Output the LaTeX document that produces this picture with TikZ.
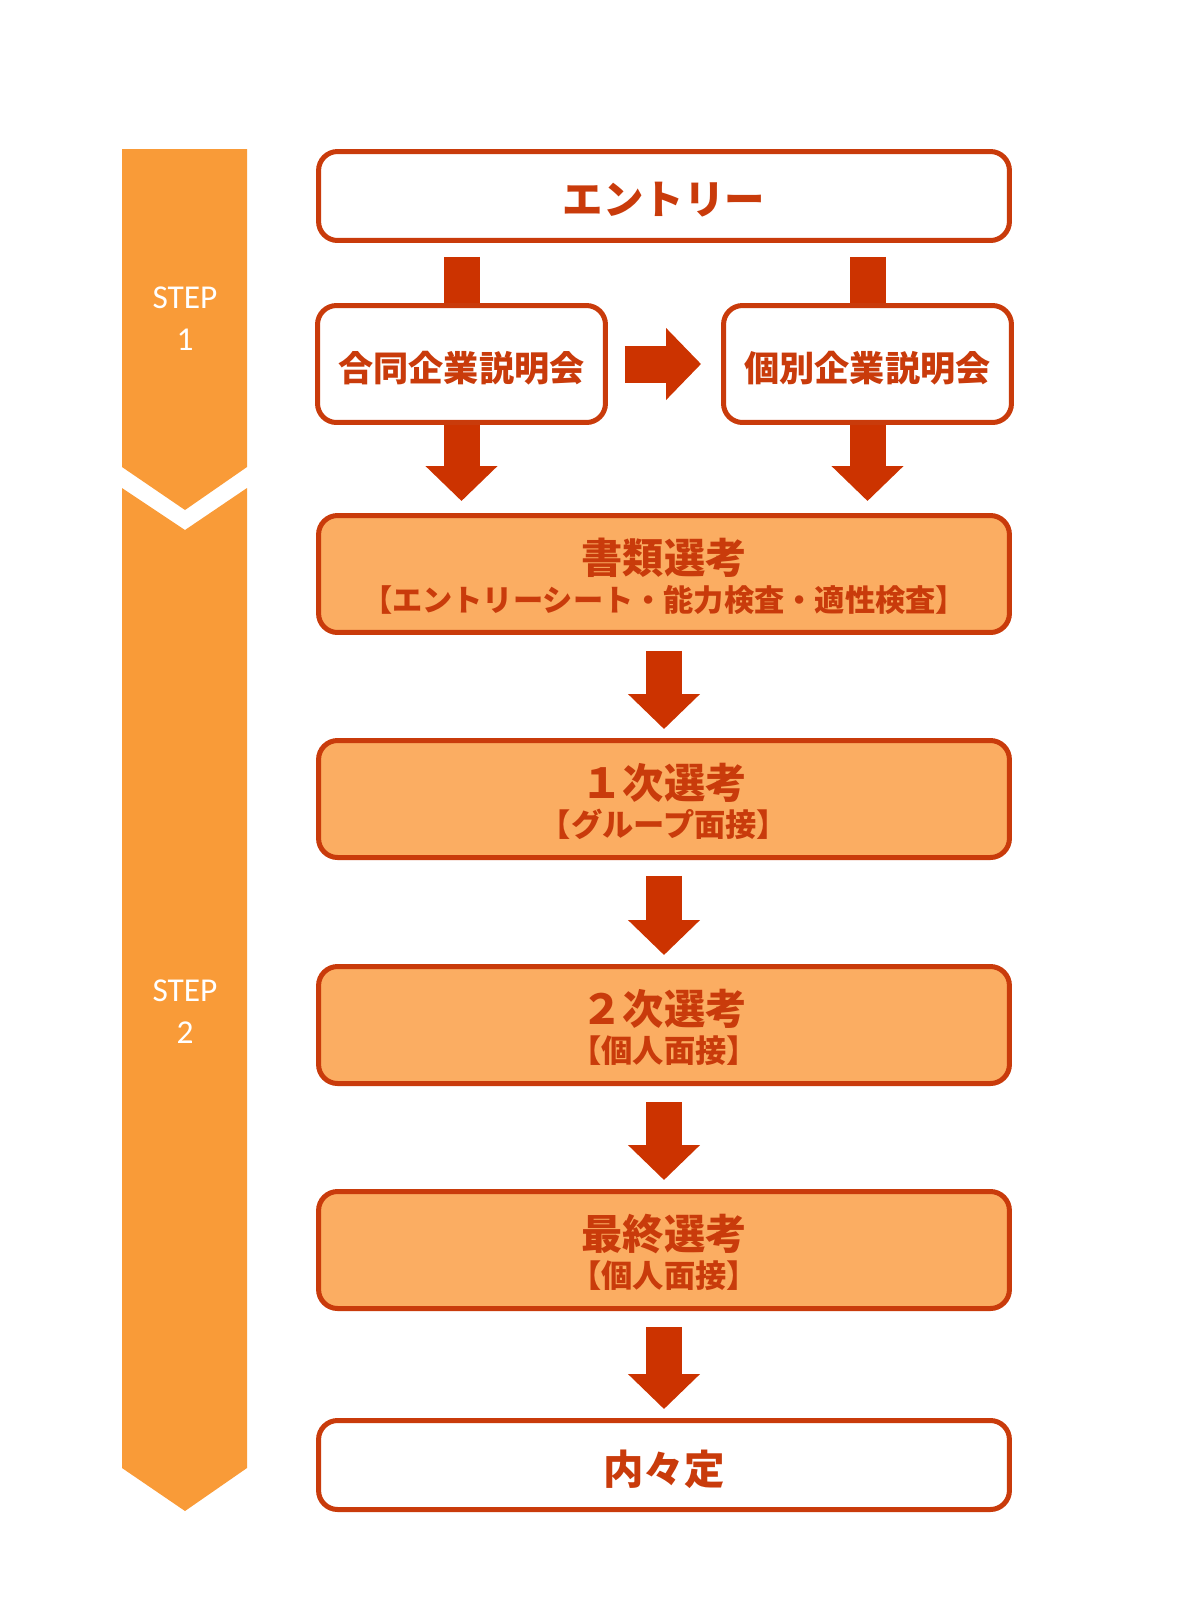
\documentclass[tikz,border=0pt]{standalone}
\usepackage{fontspec}
\usepackage{tikz}
\usetikzlibrary{arrows.meta}
\newfontfamily\jpfont{Noto Sans CJK JP}[BoldFont={Noto Sans CJK JP Black}]
\newfontfamily\stepfont{Carlito}
\definecolor{barorange}{HTML}{F99B38}
\definecolor{boxfill}{HTML}{FBAD62}
\definecolor{edgered}{HTML}{C93B0B}
\definecolor{arrowred}{HTML}{CC3300}
\newcommand{\bigjp}[1]{{\fontsize{23.5}{21.5}\selectfont #1}}
\newcommand{\subjp}[1]{{\fontsize{17.8}{21.5}\selectfont #1}}

\begin{document}
\begin{tikzpicture}[x=0.02cm, y=-0.02cm,
	flowbox/.style={draw=edgered, line width=0.1cm, rounded corners=0.38cm, fill=white, inner sep=0pt, minimum width=13.82cm, minimum height=1.78cm},
	selbox/.style={flowbox, fill=boxfill, minimum height=2.34cm},
	setsubox/.style={flowbox, minimum width=5.76cm, minimum height=2.34cm},
	boxtext/.style={text=edgered, align=center, inner sep=0pt, yshift=-0.08cm, font=\jpfont\bfseries\fontsize{23}{21.5}\selectfont},
	twoline/.style={boxtext, yshift=0.03cm},
	steplabel/.style={text=white, align=center, font=\stepfont\fontsize{19}{24}\selectfont},
	downarrow/.style={draw=arrowred, line width=0.72cm, -{Triangle[width=1.4cm, length=0.7cm, fill=arrowred]}},
	stubline/.style={draw=arrowred, line width=0.72cm}]
	\useasboundingbox (0,0) rectangle (1200,1600);
	\fill[barorange] (122,149) -- (247,149) -- (247,467) -- (185,510) -- (122,467) -- cycle;
	\fill[barorange] (122,488) -- (185,530) -- (247,488) -- (247,1468) -- (185,1511) -- (122,1468) -- cycle;
	\node[steplabel] (step1) at (185,319) {STEP\\1};
	\node[steplabel] (step2) at (185,1012) {STEP\\2};
	\node[flowbox, label={[boxtext]center:エントリー}] (entry) at (664,196) {};
	\node[setsubox, label={[boxtext, font=\jpfont\bfseries\fontsize{20}{22}\selectfont]center:合同企業説明会}] (gou) at (461.5,364) {};
	\node[setsubox, label={[boxtext, font=\jpfont\bfseries\fontsize{20}{22}\selectfont]center:個別企業説明会}] (kobetsu) at (867.5,364) {};
	\node[selbox, label={[twoline]center:\bigjp{書類選考}\\\subjp{\fontsize{17.2}{21.5}\selectfont 【エントリーシート・能力検査・適性検査】}}] (shorui) at (664,574) {};
	\node[selbox, label={[twoline]center:\bigjp{１次選考}\\\subjp{【グループ面接】}}] (ichiji) at (664,799) {};
	\node[selbox, label={[twoline]center:\bigjp{２次選考}\\\subjp{【個人面接】}}] (niji) at (664,1025) {};
	\node[selbox, label={[twoline]center:\bigjp{最終選考}\\\subjp{【個人面接】}}] (saishu) at (664,1250) {};
	\node[flowbox, label={[boxtext]center:内々定}] (naitei) at (664,1465) {};
	\foreach \b in {gou, kobetsu} {
		\draw[stubline] ([yshift=-0.28cm]\b.north |- entry.south) -- (\b.north);
		\draw[downarrow] (\b.south) -- ([yshift=0.24cm]\b.south |- shorui.north);
	}
	\draw[downarrow, line width=0.74cm] ([xshift=0.34cm]gou.east) -- ([xshift=-0.4cm]kobetsu.west);
	\foreach \a/\b in {shorui/ichiji, ichiji/niji, niji/saishu, saishu/naitei}
		\draw[downarrow] ([yshift=-0.32cm]\a.south) -- ([yshift=0.18cm]\b.north);
\end{tikzpicture}
\end{document}
